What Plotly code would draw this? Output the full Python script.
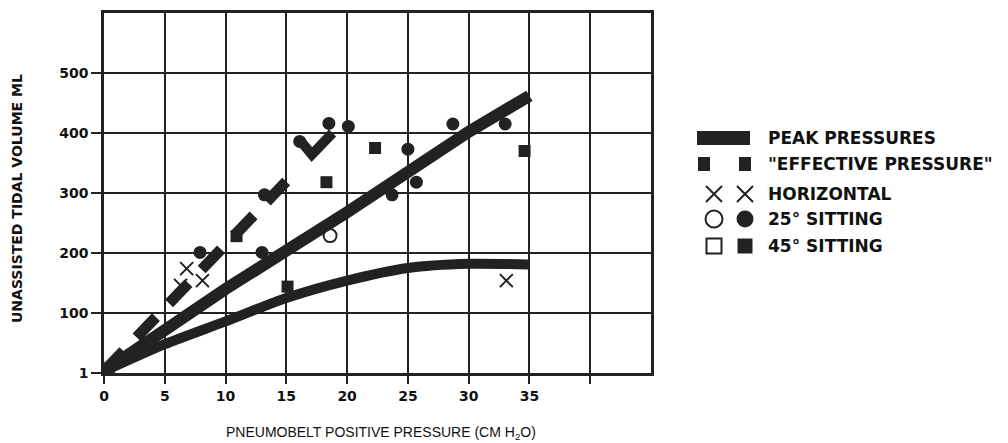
import plotly.graph_objects as go

# ---------------- data ----------------
x_ticks = [0, 5, 10, 15, 20, 25, 30, 35]
x_ticklabels = ["0", "5", "10", "15", "20", "25", "30", "35"]
x_extra_grid = [40]
y_ticks = [0, 100, 200, 300, 400, 500]
y_ticklabels = ["1", "100", "200", "300", "400", "500"]

peak_upper_x = [0, 10, 20, 30, 35]
peak_upper_y = [3, 140, 268, 402, 462]

peak_lower_x = [0, 5, 10, 15, 20, 25, 30, 35]
peak_lower_y = [3, 48, 86, 125, 154, 175, 182, 181]

effective_x = [0, 15.5]
effective_y = [3, 330]
effective_tail_x = [16.2, 17.1, 18.8]
effective_tail_y = [386, 364, 400]

horizontal_x = [6.8, 8.1, 6.3, 33.1]
horizontal_y = [174, 154, 146, 154]

sit25_open_x = [18.6]
sit25_open_y = [229]
sit25_x = [7.9, 13.0, 13.2, 16.1, 18.5, 20.1, 23.7, 25.0, 25.7, 28.7, 33.0]
sit25_y = [201, 201, 297, 386, 416, 411, 297, 373, 318, 415, 415]

sit45_x = [0.4, 10.9, 15.1, 18.3, 22.3, 34.6]
sit45_y = [8, 228, 144, 318, 375, 370]

legend_labels = ["PEAK PRESSURES", "\"EFFECTIVE PRESSURE\"", "HORIZONTAL",
                 "25° SITTING", "45° SITTING"]

# ---------------- styling / layout ----------------
INK = "#222222"
W, H = 1008, 443
ML, MR, MT, MB = 104, 3, 13, 70
plot_w = W - ML - MR
plot_h = H - MT - MB
main_right = 651
leg_left = 690
main_dom = (main_right - ML) / plot_w
leg_dom = (leg_left - ML) / plot_w

fig = go.Figure()

# thick solid lines
fig.add_trace(go.Scatter(x=peak_upper_x, y=peak_upper_y, mode="lines",
                         line=dict(color=INK, width=12), hoverinfo="skip"))
fig.add_trace(go.Scatter(x=peak_lower_x, y=peak_lower_y, mode="lines",
                         line=dict(color=INK, width=10, shape="spline", smoothing=0.7),
                         hoverinfo="skip"))
# effective pressure (thick dashed)
fig.add_trace(go.Scatter(x=effective_x, y=effective_y, mode="lines",
                         line=dict(color=INK, width=11, dash="28px,19px"),
                         hoverinfo="skip"))
fig.add_trace(go.Scatter(x=effective_tail_x, y=effective_tail_y, mode="lines",
                         line=dict(color=INK, width=10), hoverinfo="skip"))

# markers
fig.add_trace(go.Scatter(x=horizontal_x, y=horizontal_y, mode="markers",
                         marker=dict(symbol="x-thin", size=13, line=dict(color=INK, width=2))))
fig.add_trace(go.Scatter(x=sit25_open_x, y=sit25_open_y, mode="markers",
                         marker=dict(symbol="circle-open", size=13, color=INK, line=dict(width=2))))
fig.add_trace(go.Scatter(x=sit25_x, y=sit25_y, mode="markers",
                         marker=dict(symbol="circle", size=13, color=INK)))
fig.add_trace(go.Scatter(x=sit45_x, y=sit45_y, mode="markers",
                         marker=dict(symbol="square", size=12, color=INK)))

# ---------------- custom legend on a hidden pixel-unit axis ----------------
row_y = [138, 164, 194, 219, 246]
sym_x1, sym_x2 = 714, 745
fig.add_trace(go.Scatter(x=[697, 750], y=[row_y[0], row_y[0]], mode="lines",
                         line=dict(color=INK, width=14), xaxis="x2", yaxis="y2"))
for sx in (704, 745):
    fig.add_trace(go.Scatter(x=[sx, sx], y=[row_y[1] - 7, row_y[1] + 7], mode="lines",
                             line=dict(color=INK, width=12), xaxis="x2", yaxis="y2"))
fig.add_trace(go.Scatter(x=[sym_x1, sym_x2], y=[row_y[2]] * 2, mode="markers",
                         marker=dict(symbol="x-thin", size=16, line=dict(color=INK, width=2)),
                         xaxis="x2", yaxis="y2"))
fig.add_trace(go.Scatter(x=[sym_x1], y=[row_y[3]], mode="markers",
                         marker=dict(symbol="circle-open", size=17, color=INK, line=dict(width=2)),
                         xaxis="x2", yaxis="y2"))
fig.add_trace(go.Scatter(x=[sym_x2], y=[row_y[3]], mode="markers",
                         marker=dict(symbol="circle", size=17, color=INK),
                         xaxis="x2", yaxis="y2"))
fig.add_trace(go.Scatter(x=[sym_x1], y=[row_y[4]], mode="markers",
                         marker=dict(symbol="square-open", size=15, color=INK, line=dict(width=2)),
                         xaxis="x2", yaxis="y2"))
fig.add_trace(go.Scatter(x=[sym_x2], y=[row_y[4]], mode="markers",
                         marker=dict(symbol="square", size=15, color=INK),
                         xaxis="x2", yaxis="y2"))

annotations = []
for lab, yy in zip(legend_labels, row_y):
    annotations.append(dict(x=766, y=yy, xref="x2", yref="y2", text=lab, showarrow=False,
                            xanchor="left", yanchor="middle",
                            font=dict(family="DejaVu Sans", size=17, color="#111", weight="bold")))

# axis titles
annotations.append(dict(x=(381 - ML) / plot_w, y=(H - MB - 433) / plot_h, xref="paper", yref="paper",
                        text="PNEUMOBELT POSITIVE PRESSURE (CM H<sub>2</sub>O)", showarrow=False,
                        xanchor="center", yanchor="middle",
                        font=dict(family="Liberation Sans", size=14, color="#111")))
annotations.append(dict(x=(17 - ML) / plot_w, y=(H - MB - 199) / plot_h, xref="paper", yref="paper",
                        text="UNASSISTED TIDAL VOLUME ML", showarrow=False, textangle=-90,
                        xanchor="center", yanchor="middle",
                        font=dict(family="DejaVu Sans", size=14, color="#111", weight="bold")))

axis_common = dict(showgrid=True, gridcolor=INK, gridwidth=2,
                   showline=True, linecolor=INK, linewidth=2.5, mirror=True,
                   ticks="outside", tickwidth=2, tickcolor=INK, zeroline=False,
                   tickfont=dict(family="DejaVu Sans", size=14, color="#111", weight="bold"))

fig.update_layout(
    width=W, height=H,
    margin=dict(l=ML, r=MR, t=MT, b=MB, autoexpand=False),
    paper_bgcolor="white", plot_bgcolor="white",
    showlegend=False,
    annotations=annotations,
    xaxis=dict(domain=[0, main_dom], range=[0, 45], tickmode="array",
               tickvals=x_ticks, ticktext=x_ticklabels, ticklen=8,
               minor=dict(tickmode="array", tickvals=x_extra_grid, showgrid=True,
                          gridcolor=INK, gridwidth=2, ticks="outside", ticklen=8,
                          tickwidth=2, tickcolor=INK),
               **axis_common),
    yaxis=dict(range=[0, 600], tickmode="array",
               tickvals=y_ticks, ticktext=y_ticklabels, ticklen=10,
               **axis_common),
    xaxis2=dict(domain=[leg_dom, 1], range=[leg_left, W - MR], visible=False,
                anchor="y2", fixedrange=True),
    yaxis2=dict(domain=[0, 1], range=[H - MB, MT], visible=False,
                anchor="x2", fixedrange=True),
)

fig.write_html("out.html", config={"displayModeBar": False},
               post_script="document.body.style.margin='0';document.body.style.overflow='hidden';")
